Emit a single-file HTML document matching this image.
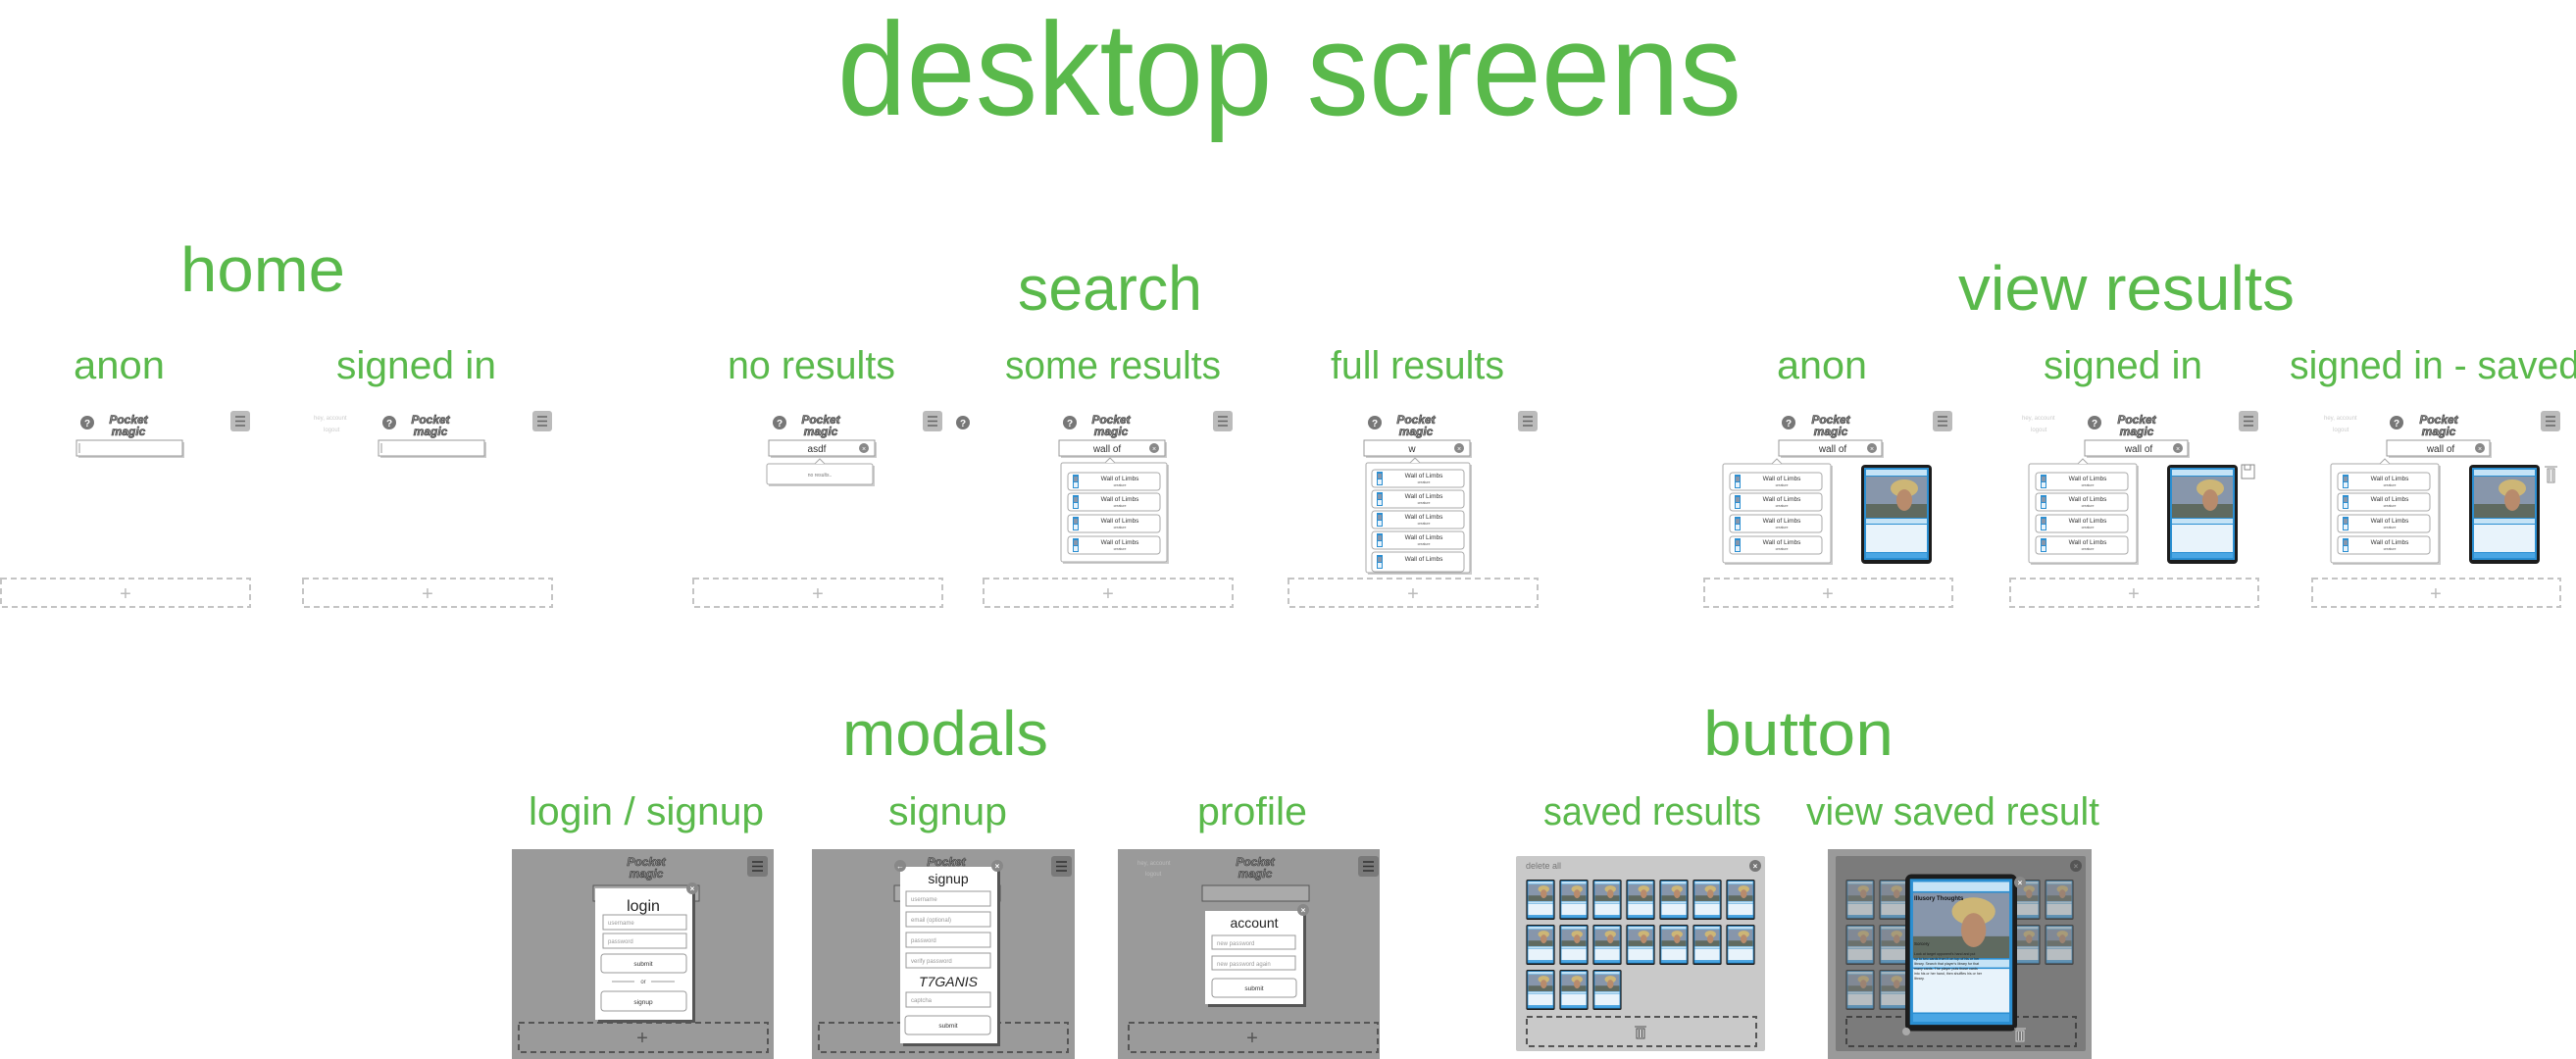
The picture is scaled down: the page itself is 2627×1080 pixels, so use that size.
<!DOCTYPE html>
<html><head><meta charset="utf-8"><style>
html,body{margin:0;padding:0;background:#fff}
svg{display:block}
text{font-family:"Liberation Sans",sans-serif}
.g{fill:#5ab94b}
.logo{font-weight:bold;font-style:italic;font-size:12px;fill:#8a8a8a;stroke:#3a3a3a;stroke-width:.6;text-anchor:middle}
.it{font-size:6.5px;fill:#333;text-anchor:middle}
.cr{font-size:3.5px;fill:#555;text-anchor:middle}
.ph{font-size:6px;fill:#999}
.bt{font-size:6.5px;fill:#333;text-anchor:middle}
</style></head><body>
<svg width="2627" height="1080" viewBox="0 0 2627 1080" xmlns="http://www.w3.org/2000/svg">
<defs>
<symbol id="card" viewBox="0 0 72 101">
<rect x="0" y="0" width="72" height="101" rx="4" fill="#1c1c1c"/>
<rect x="3" y="3" width="66" height="94" fill="#2b8fd2"/>
<rect x="5" y="5" width="62" height="6" fill="#c5e3f6"/>
<rect x="5" y="12" width="62" height="42" fill="#8796ab"/>
<rect x="5" y="40" width="62" height="14" fill="#5f6a60"/>
<ellipse cx="44" cy="24" rx="14" ry="9" fill="#cdb676"/>
<ellipse cx="44" cy="36" rx="8" ry="11" fill="#b88b6c"/>
<rect x="5" y="55" width="62" height="5" fill="#c5e3f6"/>
<rect x="5" y="61" width="62" height="28" fill="#e8f3fb"/>
<rect x="5" y="90" width="62" height="5" fill="#4aa6e4"/>
</symbol>
<symbol id="thumb" viewBox="0 0 6 14">
<rect width="6" height="14" fill="#2b8fd2"/><rect x="1" y="2" width="4" height="5" fill="#8796ab"/><rect x="1" y="8" width="4" height="5" fill="#e8f3fb"/>
</symbol>
</defs>

<!-- titles -->
<text x="854" y="117" font-size="135" class="g" textLength="922" lengthAdjust="spacingAndGlyphs">desktop screens</text>
<text x="184" y="297" font-size="64" class="g" textLength="168" lengthAdjust="spacingAndGlyphs">home</text>
<text x="1038" y="316" font-size="64" class="g" textLength="188" lengthAdjust="spacingAndGlyphs">search</text>
<text x="1997" y="316" font-size="64" class="g" textLength="343" lengthAdjust="spacingAndGlyphs">view results</text>
<text x="75" y="386" font-size="40" class="g" textLength="93" lengthAdjust="spacingAndGlyphs">anon</text>
<text x="343" y="386" font-size="40" class="g" textLength="163" lengthAdjust="spacingAndGlyphs">signed in</text>
<text x="742" y="386" font-size="40" class="g" textLength="171" lengthAdjust="spacingAndGlyphs">no results</text>
<text x="1025" y="386" font-size="40" class="g" textLength="220" lengthAdjust="spacingAndGlyphs">some results</text>
<text x="1357" y="386" font-size="40" class="g" textLength="177" lengthAdjust="spacingAndGlyphs">full results</text>
<text x="1812" y="386" font-size="40" class="g" textLength="92" lengthAdjust="spacingAndGlyphs">anon</text>
<text x="2084" y="386" font-size="40" class="g" textLength="162" lengthAdjust="spacingAndGlyphs">signed in</text>
<text x="2335" y="386" font-size="40" class="g" textLength="296" lengthAdjust="spacingAndGlyphs">signed in - saved</text>

<text x="859" y="770" font-size="64" class="g" textLength="210" lengthAdjust="spacingAndGlyphs">modals</text>
<text x="1737" y="770" font-size="64" class="g" textLength="194" lengthAdjust="spacingAndGlyphs">button</text>
<text x="539" y="841" font-size="40" class="g" textLength="240" lengthAdjust="spacingAndGlyphs">login / signup</text>
<text x="906" y="841" font-size="40" class="g" textLength="121" lengthAdjust="spacingAndGlyphs">signup</text>
<text x="1221" y="841" font-size="40" class="g" textLength="112" lengthAdjust="spacingAndGlyphs">profile</text>
<text x="1574" y="841" font-size="40" class="g" textLength="222" lengthAdjust="spacingAndGlyphs">saved results</text>
<text x="1842" y="841" font-size="40" class="g" textLength="299" lengthAdjust="spacingAndGlyphs">view saved result</text>

<!-- ===== top row screens ===== -->
<!-- generic header per screen: origin ox -->
<g id="s1" transform="translate(0,0)">
<circle cx="89" cy="431" r="7" fill="#777"/><text x="89" y="435" font-size="10" font-weight="bold" fill="#fff" text-anchor="middle">?</text>
<text x="131" y="432" class="logo">Pocket</text><text x="131" y="444" class="logo">magic</text>
<rect x="235" y="419" width="20" height="21" rx="3" fill="#bbb"/><path d="M240 425h10M240 429.5h10M240 434h10" stroke="#666" stroke-width="1.5"/>
<rect x="80" y="451" width="108" height="16" fill="#ccc"/><rect x="78" y="449" width="108" height="16" fill="#fff" stroke="#999"/><path d="M81 452v10" stroke="#999"/>
<rect x="1" y="590" width="254" height="29" fill="none" stroke="#c4c4c4" stroke-width="2" stroke-dasharray="6 4"/><text x="128" y="612" font-size="20" fill="#bbb" text-anchor="middle">+</text>
</g>
<g transform="translate(308,0)">
<text x="12" y="428" font-size="6" fill="#ccc">hey, account</text><text x="22" y="440" font-size="6" fill="#ccc">logout</text>
<circle cx="89" cy="431" r="7" fill="#777"/><text x="89" y="435" font-size="10" font-weight="bold" fill="#fff" text-anchor="middle">?</text>
<text x="131" y="432" class="logo">Pocket</text><text x="131" y="444" class="logo">magic</text>
<rect x="235" y="419" width="20" height="21" rx="3" fill="#bbb"/><path d="M240 425h10M240 429.5h10M240 434h10" stroke="#666" stroke-width="1.5"/>
<rect x="80" y="451" width="108" height="16" fill="#ccc"/><rect x="78" y="449" width="108" height="16" fill="#fff" stroke="#999"/><path d="M81 452v10" stroke="#999"/>
<rect x="1" y="590" width="254" height="29" fill="none" stroke="#c4c4c4" stroke-width="2" stroke-dasharray="6 4"/><text x="128" y="612" font-size="20" fill="#bbb" text-anchor="middle">+</text>
</g>
<!-- no results -->
<g transform="translate(706,0)">
<circle cx="89" cy="431" r="7" fill="#777"/><text x="89" y="435" font-size="10" font-weight="bold" fill="#fff" text-anchor="middle">?</text>
<text x="131" y="432" class="logo">Pocket</text><text x="131" y="444" class="logo">magic</text>
<rect x="235" y="419" width="20" height="21" rx="3" fill="#bbb"/><path d="M240 425h10M240 429.5h10M240 434h10" stroke="#666" stroke-width="1.5"/>
<rect x="80" y="451" width="108" height="16" fill="#ccc"/><rect x="78" y="449" width="108" height="16" fill="#fff" stroke="#999"/>
<text x="127" y="461" font-size="10" fill="#333" text-anchor="middle">asdf</text><circle cx="175" cy="457" r="5" fill="#888"/><text x="175" y="460" font-size="7" fill="#fff" text-anchor="middle">×</text>
<rect x="78" y="475" width="108" height="21" fill="#ccc"/><rect x="76" y="473" width="108" height="21" rx="2" fill="#fff" stroke="#aaa"/>
<path d="M125 473l5-5 5 5" fill="#fff" stroke="#aaa"/>
<text x="130" y="486" font-size="5" fill="#777" text-anchor="middle">no results..</text>
<rect x="1" y="590" width="254" height="29" fill="none" stroke="#c4c4c4" stroke-width="2" stroke-dasharray="6 4"/><text x="128" y="612" font-size="20" fill="#bbb" text-anchor="middle">+</text>
</g>
<!-- some results -->
<g transform="translate(1002,0)">
<circle cx="-20" cy="431" r="7" fill="#777"/><text x="-20" y="435" font-size="10" font-weight="bold" fill="#fff" text-anchor="middle">?</text>
<circle cx="89" cy="431" r="7" fill="#777"/><text x="89" y="435" font-size="10" font-weight="bold" fill="#fff" text-anchor="middle">?</text>
<text x="131" y="432" class="logo">Pocket</text><text x="131" y="444" class="logo">magic</text>
<rect x="235" y="419" width="20" height="21" rx="3" fill="#bbb"/><path d="M240 425h10M240 429.5h10M240 434h10" stroke="#666" stroke-width="1.5"/>
<rect x="80" y="451" width="108" height="16" fill="#ccc"/><rect x="78" y="449" width="108" height="16" fill="#fff" stroke="#999"/>
<text x="127" y="461" font-size="10" fill="#333" text-anchor="middle">wall of</text><circle cx="175" cy="457" r="5" fill="#888"/><text x="175" y="460" font-size="7" fill="#fff" text-anchor="middle">×</text>
<rect x="82" y="474" width="108" height="101" fill="#ccc"/><rect x="80" y="472" width="108" height="101" rx="2" fill="#fff" stroke="#aaa"/>
<path d="M125 472l5-5 5 5" fill="#fff" stroke="#aaa"/>
<g><rect x="87" y="482" width="94" height="18" rx="3" fill="#fff" stroke="#aaa"/><use href="#thumb" x="92" y="484" width="6" height="14"/><text x="140" y="490" class="it">Wall of Limbs</text><text x="140" y="496" class="cr">creature</text></g>
<g><rect x="87" y="503" width="94" height="18" rx="3" fill="#fff" stroke="#aaa"/><use href="#thumb" x="92" y="505" width="6" height="14"/><text x="140" y="511" class="it">Wall of Limbs</text><text x="140" y="517" class="cr">creature</text></g>
<g><rect x="87" y="525" width="94" height="18" rx="3" fill="#fff" stroke="#aaa"/><use href="#thumb" x="92" y="527" width="6" height="14"/><text x="140" y="533" class="it">Wall of Limbs</text><text x="140" y="539" class="cr">creature</text></g>
<g><rect x="87" y="547" width="94" height="18" rx="3" fill="#fff" stroke="#aaa"/><use href="#thumb" x="92" y="549" width="6" height="14"/><text x="140" y="555" class="it">Wall of Limbs</text><text x="140" y="561" class="cr">creature</text></g>
<rect x="1" y="590" width="254" height="29" fill="none" stroke="#c4c4c4" stroke-width="2" stroke-dasharray="6 4"/><text x="128" y="612" font-size="20" fill="#bbb" text-anchor="middle">+</text>
</g>
<!-- full results -->
<g transform="translate(1313,0)">
<circle cx="89" cy="431" r="7" fill="#777"/><text x="89" y="435" font-size="10" font-weight="bold" fill="#fff" text-anchor="middle">?</text>
<text x="131" y="432" class="logo">Pocket</text><text x="131" y="444" class="logo">magic</text>
<rect x="235" y="419" width="20" height="21" rx="3" fill="#bbb"/><path d="M240 425h10M240 429.5h10M240 434h10" stroke="#666" stroke-width="1.5"/>
<rect x="80" y="451" width="108" height="16" fill="#ccc"/><rect x="78" y="449" width="108" height="16" fill="#fff" stroke="#999"/>
<text x="127" y="461" font-size="10" fill="#333" text-anchor="middle">w</text><circle cx="175" cy="457" r="5" fill="#888"/><text x="175" y="460" font-size="7" fill="#fff" text-anchor="middle">×</text>
<rect x="82" y="474" width="106" height="112" fill="#ccc"/><rect x="80" y="472" width="106" height="112" rx="2" fill="#fff" stroke="#aaa"/>
<path d="M125 472l5-5 5 5" fill="#fff" stroke="#aaa"/>
<g><rect x="86" y="479" width="94" height="18" rx="3" fill="#fff" stroke="#aaa"/><use href="#thumb" x="91" y="481" width="6" height="14"/><text x="139" y="487" class="it">Wall of Limbs</text><text x="139" y="493" class="cr">creature</text></g>
<g><rect x="86" y="500" width="94" height="18" rx="3" fill="#fff" stroke="#aaa"/><use href="#thumb" x="91" y="502" width="6" height="14"/><text x="139" y="508" class="it">Wall of Limbs</text><text x="139" y="514" class="cr">creature</text></g>
<g><rect x="86" y="521" width="94" height="18" rx="3" fill="#fff" stroke="#aaa"/><use href="#thumb" x="91" y="523" width="6" height="14"/><text x="139" y="529" class="it">Wall of Limbs</text><text x="139" y="535" class="cr">creature</text></g>
<g><rect x="86" y="542" width="94" height="18" rx="3" fill="#fff" stroke="#aaa"/><use href="#thumb" x="91" y="544" width="6" height="14"/><text x="139" y="550" class="it">Wall of Limbs</text><text x="139" y="556" class="cr">creature</text></g>
<g><rect x="86" y="563" width="94" height="20" rx="3" fill="#fff" stroke="#aaa"/><use href="#thumb" x="91" y="566" width="6" height="14"/><text x="139" y="572" class="it">Wall of Limbs</text></g>
<rect x="1" y="590" width="254" height="29" fill="none" stroke="#c4c4c4" stroke-width="2" stroke-dasharray="6 4"/><text x="128" y="612" font-size="20" fill="#bbb" text-anchor="middle">+</text>
</g>

<!-- view results anon / signed / saved -->
<g transform="translate(1737,0)">
<circle cx="87" cy="431" r="7" fill="#777"/><text x="87" y="435" font-size="10" font-weight="bold" fill="#fff" text-anchor="middle">?</text>
<text x="130" y="432" class="logo">Pocket</text><text x="130" y="444" class="logo">magic</text>
<rect x="234" y="419" width="20" height="21" rx="3" fill="#bbb"/><path d="M239 425h10M239 429.5h10M239 434h10" stroke="#666" stroke-width="1.5"/>
<rect x="79" y="451" width="105" height="16" fill="#ccc"/><rect x="77" y="449" width="105" height="16" fill="#fff" stroke="#999"/>
<text x="132" y="461" font-size="10" fill="#333" text-anchor="middle">wall of</text><circle cx="172" cy="457" r="5" fill="#888"/><text x="172" y="460" font-size="7" fill="#fff" text-anchor="middle">×</text>
<rect x="22" y="475" width="110" height="101" fill="#ccc"/><rect x="20" y="473" width="110" height="101" rx="2" fill="#fff" stroke="#aaa"/>
<path d="M70 473l5-5 5 5" fill="#fff" stroke="#aaa"/>
<g><rect x="27" y="482" width="94" height="18" rx="3" fill="#fff" stroke="#aaa"/><use href="#thumb" x="32" y="484" width="6" height="14"/><text x="80" y="490" class="it">Wall of Limbs</text><text x="80" y="496" class="cr">creature</text></g>
<g><rect x="27" y="503" width="94" height="18" rx="3" fill="#fff" stroke="#aaa"/><use href="#thumb" x="32" y="505" width="6" height="14"/><text x="80" y="511" class="it">Wall of Limbs</text><text x="80" y="517" class="cr">creature</text></g>
<g><rect x="27" y="525" width="94" height="18" rx="3" fill="#fff" stroke="#aaa"/><use href="#thumb" x="32" y="527" width="6" height="14"/><text x="80" y="533" class="it">Wall of Limbs</text><text x="80" y="539" class="cr">creature</text></g>
<g><rect x="27" y="547" width="94" height="18" rx="3" fill="#fff" stroke="#aaa"/><use href="#thumb" x="32" y="549" width="6" height="14"/><text x="80" y="555" class="it">Wall of Limbs</text><text x="80" y="561" class="cr">creature</text></g>
<use href="#card" x="161" y="474" width="72" height="101"/>
<rect x="1" y="590" width="253" height="29" fill="none" stroke="#c4c4c4" stroke-width="2" stroke-dasharray="6 4"/><text x="127" y="612" font-size="20" fill="#bbb" text-anchor="middle">+</text>
</g>
<g transform="translate(2049,0)">
<text x="13" y="428" font-size="6" fill="#ccc">hey, account</text><text x="22" y="440" font-size="6" fill="#ccc">logout</text>
<circle cx="87" cy="431" r="7" fill="#777"/><text x="87" y="435" font-size="10" font-weight="bold" fill="#fff" text-anchor="middle">?</text>
<text x="130" y="432" class="logo">Pocket</text><text x="130" y="444" class="logo">magic</text>
<rect x="234" y="419" width="20" height="21" rx="3" fill="#bbb"/><path d="M239 425h10M239 429.5h10M239 434h10" stroke="#666" stroke-width="1.5"/>
<rect x="79" y="451" width="105" height="16" fill="#ccc"/><rect x="77" y="449" width="105" height="16" fill="#fff" stroke="#999"/>
<text x="132" y="461" font-size="10" fill="#333" text-anchor="middle">wall of</text><circle cx="172" cy="457" r="5" fill="#888"/><text x="172" y="460" font-size="7" fill="#fff" text-anchor="middle">×</text>
<rect x="22" y="475" width="110" height="101" fill="#ccc"/><rect x="20" y="473" width="110" height="101" rx="2" fill="#fff" stroke="#aaa"/>
<path d="M70 473l5-5 5 5" fill="#fff" stroke="#aaa"/>
<g><rect x="27" y="482" width="94" height="18" rx="3" fill="#fff" stroke="#aaa"/><use href="#thumb" x="32" y="484" width="6" height="14"/><text x="80" y="490" class="it">Wall of Limbs</text><text x="80" y="496" class="cr">creature</text></g>
<g><rect x="27" y="503" width="94" height="18" rx="3" fill="#fff" stroke="#aaa"/><use href="#thumb" x="32" y="505" width="6" height="14"/><text x="80" y="511" class="it">Wall of Limbs</text><text x="80" y="517" class="cr">creature</text></g>
<g><rect x="27" y="525" width="94" height="18" rx="3" fill="#fff" stroke="#aaa"/><use href="#thumb" x="32" y="527" width="6" height="14"/><text x="80" y="533" class="it">Wall of Limbs</text><text x="80" y="539" class="cr">creature</text></g>
<g><rect x="27" y="547" width="94" height="18" rx="3" fill="#fff" stroke="#aaa"/><use href="#thumb" x="32" y="549" width="6" height="14"/><text x="80" y="555" class="it">Wall of Limbs</text><text x="80" y="561" class="cr">creature</text></g>
<use href="#card" x="161" y="474" width="72" height="101"/>
<rect x="237" y="474" width="13" height="14" fill="#fff" stroke="#888"/><rect x="240" y="474" width="6" height="5" fill="none" stroke="#888"/>
<rect x="1" y="590" width="253" height="29" fill="none" stroke="#c4c4c4" stroke-width="2" stroke-dasharray="6 4"/><text x="127" y="612" font-size="20" fill="#bbb" text-anchor="middle">+</text>
</g>
<g transform="translate(2357,0)">
<text x="13" y="428" font-size="6" fill="#ccc">hey, account</text><text x="22" y="440" font-size="6" fill="#ccc">logout</text>
<circle cx="87" cy="431" r="7" fill="#777"/><text x="87" y="435" font-size="10" font-weight="bold" fill="#fff" text-anchor="middle">?</text>
<text x="130" y="432" class="logo">Pocket</text><text x="130" y="444" class="logo">magic</text>
<rect x="234" y="419" width="20" height="21" rx="3" fill="#bbb"/><path d="M239 425h10M239 429.5h10M239 434h10" stroke="#666" stroke-width="1.5"/>
<rect x="79" y="451" width="105" height="16" fill="#ccc"/><rect x="77" y="449" width="105" height="16" fill="#fff" stroke="#999"/>
<text x="132" y="461" font-size="10" fill="#333" text-anchor="middle">wall of</text><circle cx="172" cy="457" r="5" fill="#888"/><text x="172" y="460" font-size="7" fill="#fff" text-anchor="middle">×</text>
<rect x="22" y="475" width="110" height="101" fill="#ccc"/><rect x="20" y="473" width="110" height="101" rx="2" fill="#fff" stroke="#aaa"/>
<path d="M70 473l5-5 5 5" fill="#fff" stroke="#aaa"/>
<g><rect x="27" y="482" width="94" height="18" rx="3" fill="#fff" stroke="#aaa"/><use href="#thumb" x="32" y="484" width="6" height="14"/><text x="80" y="490" class="it">Wall of Limbs</text><text x="80" y="496" class="cr">creature</text></g>
<g><rect x="27" y="503" width="94" height="18" rx="3" fill="#fff" stroke="#aaa"/><use href="#thumb" x="32" y="505" width="6" height="14"/><text x="80" y="511" class="it">Wall of Limbs</text><text x="80" y="517" class="cr">creature</text></g>
<g><rect x="27" y="525" width="94" height="18" rx="3" fill="#fff" stroke="#aaa"/><use href="#thumb" x="32" y="527" width="6" height="14"/><text x="80" y="533" class="it">Wall of Limbs</text><text x="80" y="539" class="cr">creature</text></g>
<g><rect x="27" y="547" width="94" height="18" rx="3" fill="#fff" stroke="#aaa"/><use href="#thumb" x="32" y="549" width="6" height="14"/><text x="80" y="555" class="it">Wall of Limbs</text><text x="80" y="561" class="cr">creature</text></g>
<use href="#card" x="161" y="474" width="72" height="101"/>
<path d="M238 476h13M241 478h7v14h-7zM243 479v12M246 479v12" stroke="#888" fill="none"/>
<rect x="1" y="590" width="253" height="29" fill="none" stroke="#c4c4c4" stroke-width="2" stroke-dasharray="6 4"/><text x="127" y="612" font-size="20" fill="#bbb" text-anchor="middle">+</text>
</g>

<!-- ===== modals ===== -->
<!-- login -->
<g transform="translate(522,866)">
<rect x="0" y="0" width="267" height="214" fill="#9a9a9a"/>
<text x="137" y="17" class="logo" fill="#888" style="fill:#8a8a8a">Pocket</text><text x="137" y="29" class="logo">magic</text>
<rect x="240" y="7" width="21" height="21" rx="3" fill="#7a7a7a"/><path d="M245 13h11M245 17.5h11M245 22h11" stroke="#333" stroke-width="1.5"/>
<rect x="83" y="37" width="108" height="16" fill="#aaa" stroke="#555"/>
<rect x="7" y="177" width="254" height="30" fill="none" stroke="#555" stroke-width="2" stroke-dasharray="6 4"/><text x="133" y="199" font-size="20" fill="#555" text-anchor="middle">+</text>
<rect x="88" y="43" width="99" height="134" fill="#555"/>
<rect x="85" y="40" width="99" height="134" fill="#fff"/>
<circle cx="184" cy="40" r="6" fill="#888"/><text x="184" y="43" font-size="8" fill="#fff" text-anchor="middle" font-weight="bold">×</text>
<text x="134" y="63" font-size="16" fill="#222" text-anchor="middle">login</text>
<rect x="93" y="67" width="85" height="15" fill="#fff" stroke="#999"/><text x="98" y="77" class="ph">username</text>
<rect x="93" y="86" width="85" height="15" fill="#fff" stroke="#999"/><text x="98" y="96" class="ph">password</text>
<rect x="91" y="107" width="87" height="19" rx="3" fill="#fff" stroke="#999"/><text x="134" y="119" class="bt">submit</text>
<path d="M102 135h23M142 135h24" stroke="#999"/><text x="134" y="137" font-size="6" fill="#555" text-anchor="middle">or</text>
<rect x="91" y="145" width="87" height="20" rx="3" fill="#fff" stroke="#999"/><text x="134" y="158" class="bt">signup</text>
</g>
<!-- signup -->
<g transform="translate(828,866)">
<rect x="0" y="0" width="268" height="214" fill="#9a9a9a"/>
<text x="137" y="17" class="logo">Pocket</text>
<rect x="244" y="7" width="21" height="21" rx="3" fill="#7a7a7a"/><path d="M249 13h11M249 17.5h11M249 22h11" stroke="#333" stroke-width="1.5"/>
<rect x="84" y="37" width="108" height="16" fill="#aaa" stroke="#555"/>
<rect x="7" y="177" width="254" height="30" fill="none" stroke="#555" stroke-width="2" stroke-dasharray="6 4"/><text x="133" y="199" font-size="20" fill="#555" text-anchor="middle">+</text>
<rect x="93" y="21" width="99" height="180" fill="#555"/>
<rect x="90" y="18" width="99" height="180" fill="#fff"/>
<circle cx="90" cy="17" r="6" fill="#888"/><text x="90" y="20" font-size="8" fill="#fff" text-anchor="middle">←</text>
<circle cx="189" cy="17" r="6" fill="#888"/><text x="189" y="20" font-size="8" fill="#fff" text-anchor="middle" font-weight="bold">×</text>
<text x="139" y="35" font-size="14" fill="#222" text-anchor="middle">signup</text>
<rect x="96" y="43" width="86" height="15" fill="#fff" stroke="#999"/><text x="101" y="53" class="ph">username</text>
<rect x="96" y="64" width="86" height="15" fill="#fff" stroke="#999"/><text x="101" y="74" class="ph">email (optional)</text>
<rect x="96" y="85" width="86" height="15" fill="#fff" stroke="#999"/><text x="101" y="95" class="ph">password</text>
<rect x="96" y="106" width="86" height="15" fill="#fff" stroke="#999"/><text x="101" y="116" class="ph">verify password</text>
<text x="139" y="140" font-size="14" fill="#222" text-anchor="middle" font-family="Liberation Serif" font-style="italic">T7GANIS</text>
<rect x="96" y="146" width="86" height="15" fill="#fff" stroke="#999"/><text x="101" y="156" class="ph">captcha</text>
<rect x="95" y="170" width="87" height="19" rx="3" fill="#fff" stroke="#999"/><text x="139" y="182" class="bt">submit</text>
</g>
<!-- profile -->
<g transform="translate(1140,866)">
<rect x="0" y="0" width="267" height="214" fill="#9a9a9a"/>
<text x="20" y="16" font-size="6" fill="#bbb">hey, account</text><text x="28" y="27" font-size="6" fill="#bbb">logout</text>
<text x="140" y="17" class="logo">Pocket</text><text x="140" y="29" class="logo">magic</text>
<rect x="245" y="7" width="21" height="21" rx="3" fill="#7a7a7a"/><path d="M250 13h11M250 17.5h11M250 22h11" stroke="#333" stroke-width="1.5"/>
<rect x="86" y="37" width="109" height="16" fill="#aaa" stroke="#555"/>
<rect x="11" y="177" width="254" height="30" fill="none" stroke="#555" stroke-width="2" stroke-dasharray="6 4"/><text x="137" y="199" font-size="20" fill="#555" text-anchor="middle">+</text>
<rect x="92" y="66" width="100" height="95" fill="#555"/>
<rect x="89" y="63" width="100" height="95" fill="#fff"/>
<circle cx="189" cy="62" r="6" fill="#888"/><text x="189" y="65" font-size="8" fill="#fff" text-anchor="middle" font-weight="bold">×</text>
<text x="139" y="80" font-size="14" fill="#222" text-anchor="middle">account</text>
<rect x="96" y="88" width="85" height="14" fill="#fff" stroke="#999"/><text x="101" y="98" class="ph">new password</text>
<rect x="96" y="109" width="85" height="14" fill="#fff" stroke="#999"/><text x="101" y="119" class="ph">new password again</text>
<rect x="96" y="132" width="86" height="19" rx="3" fill="#fff" stroke="#999"/><text x="139" y="144" class="bt">submit</text>
</g>

<!-- saved results -->
<g>
<rect x="1546" y="873" width="254" height="199" rx="2" fill="#c9c9c9"/>
<text x="1556" y="886" font-size="9" fill="#777">delete all</text>
<circle cx="1790" cy="883" r="6" fill="#777"/><text x="1790" y="886" font-size="8" fill="#fff" text-anchor="middle" font-weight="bold">×</text>
<use href="#card" x="1556" y="897" width="30" height="41"/><use href="#card" x="1590" y="897" width="30" height="41"/><use href="#card" x="1624" y="897" width="30" height="41"/><use href="#card" x="1658" y="897" width="30" height="41"/><use href="#card" x="1692" y="897" width="30" height="41"/><use href="#card" x="1726" y="897" width="30" height="41"/><use href="#card" x="1760" y="897" width="30" height="41"/>
<use href="#card" x="1556" y="943" width="30" height="41"/><use href="#card" x="1590" y="943" width="30" height="41"/><use href="#card" x="1624" y="943" width="30" height="41"/><use href="#card" x="1658" y="943" width="30" height="41"/><use href="#card" x="1692" y="943" width="30" height="41"/><use href="#card" x="1726" y="943" width="30" height="41"/><use href="#card" x="1760" y="943" width="30" height="41"/>
<use href="#card" x="1556" y="989" width="30" height="41"/><use href="#card" x="1590" y="989" width="30" height="41"/><use href="#card" x="1624" y="989" width="30" height="41"/>
<rect x="1557" y="1037" width="234" height="30" fill="none" stroke="#555" stroke-width="2" stroke-dasharray="6 4"/>
<path d="M1667 1047h12M1669 1049h8v10h-8zM1671.5 1050v8M1674.5 1050v8" stroke="#555" fill="none"/>
</g>
<!-- view saved result -->
<g>
<rect x="1864" y="866" width="269" height="214" fill="#9a9a9a"/>
<rect x="1872" y="873" width="255" height="199" rx="2" fill="#7b7b7b"/>
<circle cx="2117" cy="883" r="6" fill="#555"/><text x="2117" y="886" font-size="8" fill="#888" text-anchor="middle" font-weight="bold">×</text>
<g opacity="0.55">
<use href="#card" x="1882" y="897" width="30" height="41"/><use href="#card" x="1916" y="897" width="30" height="41"/><use href="#card" x="2085" y="897" width="30" height="41"/><use href="#card" x="2051" y="897" width="30" height="41"/>
<use href="#card" x="1882" y="943" width="30" height="41"/><use href="#card" x="1916" y="943" width="30" height="41"/><use href="#card" x="2085" y="943" width="30" height="41"/><use href="#card" x="2051" y="943" width="30" height="41"/>
<use href="#card" x="1882" y="989" width="30" height="41"/><use href="#card" x="1916" y="989" width="30" height="41"/>
</g>
<rect x="1883" y="1037" width="234" height="30" fill="none" stroke="#444" stroke-width="2" stroke-dasharray="6 4"/>
<use href="#card" x="1943" y="890" width="114" height="163"/>
<text x="1952" y="918" font-size="6" fill="#111" font-weight="bold" font-family="Liberation Serif">Illusory Thoughts</text>
<text x="1952" y="964" font-size="4.5" fill="#111" font-family="Liberation Serif">Sorcery</text>
<text x="1952" y="974" font-size="3.6" fill="#222" font-family="Liberation Serif">Look at target opponent's hand and put</text>
<text x="1952" y="979" font-size="3.6" fill="#222" font-family="Liberation Serif">up to two cards from it on top of his or her</text>
<text x="1952" y="984" font-size="3.6" fill="#222" font-family="Liberation Serif">library. Search that player's library for that</text>
<text x="1952" y="989" font-size="3.6" fill="#222" font-family="Liberation Serif">many cards. The player puts those cards</text>
<text x="1952" y="994" font-size="3.6" fill="#222" font-family="Liberation Serif">into his or her hand, then shuffles his or her</text>
<text x="1952" y="999" font-size="3.6" fill="#222" font-family="Liberation Serif">library.</text>
<circle cx="2060" cy="900" r="6" fill="#888"/><text x="2060" y="903" font-size="8" fill="#fff" text-anchor="middle" font-weight="bold">×</text>
<circle cx="1944" cy="1052" r="4" fill="#aaa"/>
<path d="M2054 1049h12M2056 1051h8v11h-8zM2058.5 1052v9M2061.5 1052v9" stroke="#ccc" fill="none"/>
</g>
</svg>
</body></html>
